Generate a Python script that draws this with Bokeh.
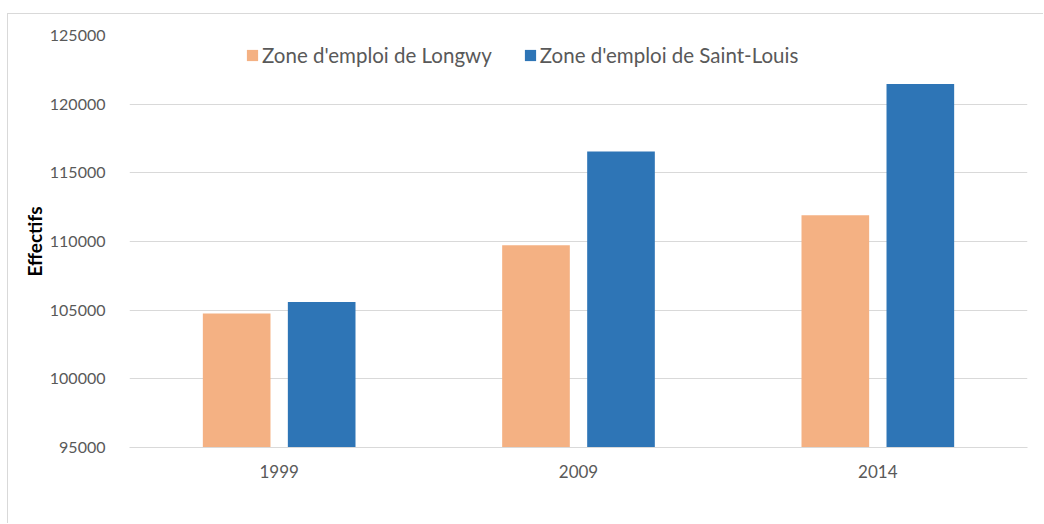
from bokeh.plotting import figure
from bokeh.models import FactorRange, Range1d, FixedTicker, Legend, LegendItem, ColumnDataSource, BasicTickFormatter
from bokeh.transform import dodge
from bokeh.embed import file_html
from bokeh.resources import INLINE

years = ["1999", "2009", "2014"]
longwy = [104750, 109720, 111910]
saint_louis = [105590, 116550, 121460]
series_names = ["Zone d'emploi de Longwy", "Zone d'emploi de Saint-Louis"]
y_ticks = [95000, 100000, 105000, 110000, 115000, 120000, 125000]

src = ColumnDataSource(dict(year=years, longwy=longwy, sl=saint_louis))

FONT = "Lato"
GREY = "#595959"

p = figure(x_range=FactorRange(*years, range_padding=0), y_range=Range1d(95000, 125000),
           width=1036, height=510, output_backend="svg", toolbar_location=None,
           min_border_left=121, min_border_right=17, min_border_top=21, min_border_bottom=77)
p.margin = (13, 0, 0, 7)
p.styles = {"border-top": "1px solid #d9d9d9", "border-left": "1px solid #d9d9d9"}

r1 = p.vbar(x=dodge("year", -0.142, range=p.x_range), top="longwy", bottom=95000, width=0.226,
            source=src, fill_color="#f4b183", line_color=None)
r2 = p.vbar(x=dodge("year", 0.142, range=p.x_range), top="sl", bottom=95000, width=0.226,
            source=src, fill_color="#2e75b6", line_color=None)

p.outline_line_color = None
p.background_fill_color = "white"
p.border_fill_color = "white"

p.xgrid.grid_line_color = None
p.ygrid.grid_line_color = "#d9d9d9"
p.ygrid.grid_line_width = 1

p.yaxis.ticker = FixedTicker(ticks=y_ticks)
p.yaxis.formatter = BasicTickFormatter(use_scientific=False)
p.yaxis.axis_line_color = None
p.yaxis.major_tick_line_color = None
p.yaxis.minor_tick_line_color = None
p.yaxis.major_label_text_font = FONT
p.yaxis.major_label_text_font_size = "16px"
p.yaxis.major_label_text_color = GREY
p.yaxis.major_label_standoff = 18
p.yaxis.axis_label = "Effectifs"
p.yaxis.axis_label_text_font = FONT
p.yaxis.axis_label_text_font_style = "bold"
p.yaxis.axis_label_text_font_size = "19px"
p.yaxis.axis_label_text_color = "black"
p.yaxis.axis_label_standoff = 1

p.xaxis.axis_line_color = "#d9d9d9"
p.xaxis.major_tick_line_color = None
p.xaxis.minor_tick_line_color = None
p.xaxis.major_label_text_font = FONT
p.xaxis.major_label_text_font_size = "17px"
p.xaxis.major_label_text_color = GREY
p.xaxis.major_label_standoff = 11

legend = Legend(items=[LegendItem(label=series_names[0], renderers=[r1]),
                       LegendItem(label=series_names[1], renderers=[r2])],
                orientation="horizontal", location=(116, 380))
legend.background_fill_alpha = 0
legend.border_line_color = None
legend.padding = 0
legend.margin = 0
legend.spacing = 31
legend.glyph_width = 14
legend.glyph_height = 14
legend.label_height = 20
legend.label_standoff = 3
legend.label_text_font = FONT
legend.label_text_font_size = "20.5px"
legend.label_text_color = GREY
p.add_layout(legend, "center")

open("out.html", "w").write(file_html(p, INLINE))
